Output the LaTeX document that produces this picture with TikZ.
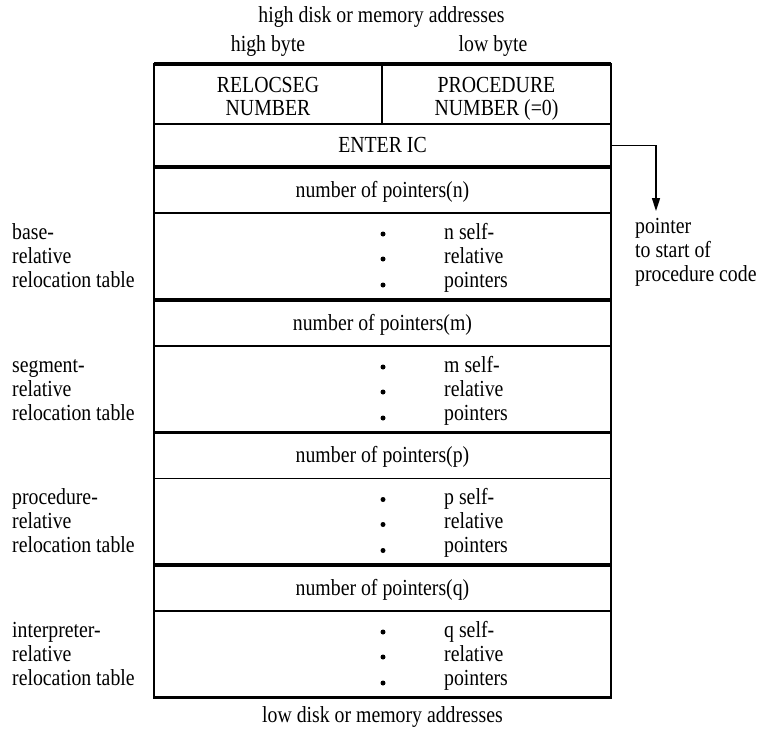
\documentclass[tikz,border=0pt]{standalone}
\usepackage{fontspec}
\setmainfont[FakeStretch=0.86]{Liberation Serif}
\usetikzlibrary{arrows.meta}
\begin{document}
\begin{tikzpicture}[x=1pt,y=-1pt,
  txt/.style={inner sep=0pt, anchor=base, font=\fontsize{23}{25}\selectfont},
  txtw/.style={txt, anchor=base west},
  cell/.style={draw, line width=1.6pt, inner sep=0pt, outer sep=0pt},
  frame/.style={line width=2.2pt},
  sep/.style={line width=3.4pt},
  dot/.style={circle, fill, inner sep=0pt, minimum size=5pt},
  ptr/.style={line width=1.6pt, -{Triangle[length=13pt,width=8pt]}}
]
\useasboundingbox (0,0) rectangle (761,729);

% headings above the layout
\node[txt] (hiaddr) at (381.5,22) {high disk or memory addresses};
\node[txt] (hibyte) at (268,51) {high byte};
\node[txt] (lobyte) at (493,51) {low byte};

% first word: segment number and procedure number
\node[cell, minimum width=228pt, minimum height=60pt] (reloc) at (268,94) {};
\node[cell, minimum width=229pt, minimum height=60pt] (procno) at (496.5,94) {};
\node[txt] (relocA) at (268,92) {RELOCSEG};
\node[txt] (relocB) at (268,115) {NUMBER};
\node[txt] (procA) at (496.5,92) {PROCEDURE};
\node[txt] (procB) at (496.5,115) {NUMBER (=0)};

% entry point word
\node[cell, minimum width=457pt, minimum height=43pt] (enter) at (382.5,145.5) {};
\node[txt] (entertxt) at (382.5,152) {ENTER IC};

% the four relocation tables
\foreach \k/\T/\w in {n/167/base-, m/300/segment-, p/432.5/procedure-, q/565/interpreter-} {
  \node[cell, minimum width=457pt, minimum height=46pt] (hdr\k) at (382.5,{\T+23}) {};
  \node[cell, minimum width=457pt, minimum height=86.5pt] (body\k) at (382.5,{\T+89.25}) {};
  \draw[sep] (hdr\k.north west) -- (hdr\k.north east);
  \node[txt] (hdrtxt\k) at (382.5,{\T+30}) {number of pointers(\k)};
  \node[dot] (dotA\k) at (383,{\T+67}) {};
  \node[dot] (dotB\k) at (383,{\T+92}) {};
  \node[dot] (dotC\k) at (383,{\T+118}) {};
  \node[txtw] (bodyA\k) at (444,{\T+72}) {\k\ self-};
  \node[txtw] (bodyB\k) at (444,{\T+96}) {relative};
  \node[txtw] (bodyC\k) at (444,{\T+120}) {pointers};
  \node[txtw] (sideA\k) at (12,{\T+72}) {\w};
  \node[txtw] (sideB\k) at (12,{\T+96}) {relative};
  \node[txtw] (sideC\k) at (12,{\T+120}) {relocation table};
}

% outer border, heavier along top and bottom
\draw[frame] (reloc.north west) rectangle (bodyq.south east);
\draw[sep] (reloc.north west) -- (procno.north east);
\draw[sep] (bodyq.south west) -- (bodyq.south east);

% pointer from the entry word to the procedure code
\coordinate (tip) at (656,211);
\draw[ptr] (enter.east) -| (tip);
\node[txtw] (ptrA) at (635,233) {pointer};
\node[txtw] (ptrB) at (635,257) {to start of};
\node[txtw] (ptrC) at (635,281) {procedure code};

% heading below the layout
\node[txt] (loaddr) at (382.5,722) {low disk or memory addresses};
\end{tikzpicture}
\end{document}
